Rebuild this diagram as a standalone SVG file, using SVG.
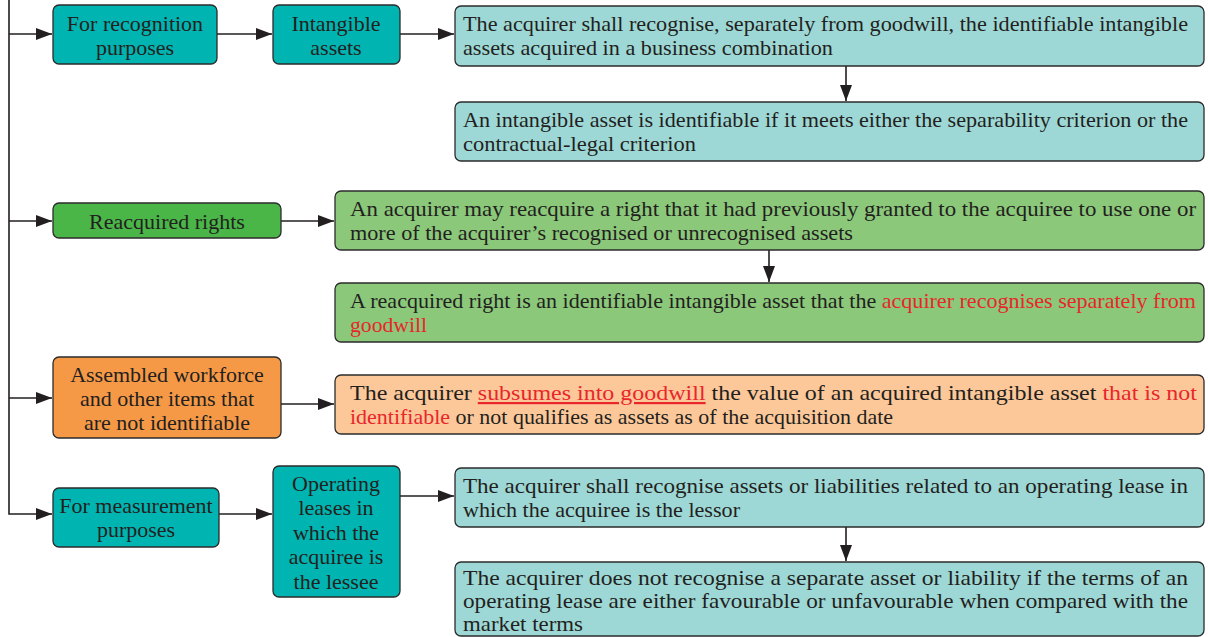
<svg xmlns="http://www.w3.org/2000/svg" width="1208" height="637" viewBox="0 0 1208 637">
<style>
.n{stroke:#2b2b2b;stroke-width:1.3}
.dt{fill:#00B4B1}.lt{fill:#9DD8D6}.dg{fill:#4AB648}.lg{fill:#8BC87A}.do{fill:#F69946}.lo{fill:#FCC899}
text{font-family:"Liberation Serif","DejaVu Serif",serif;font-size:22px;fill:#231f20}
.c{text-anchor:middle}
.r{fill:#E8262B}
.u{text-decoration:underline}
.e{stroke:#231f20;stroke-width:1.6;fill:none}
</style>
<defs>
<marker id="ah" markerUnits="userSpaceOnUse" markerWidth="17" markerHeight="13" refX="16" refY="6" orient="auto">
<path d="M0,0 L16,6 L0,12 z" fill="#231f20"/>
</marker>
</defs>
<rect width="1208" height="637" fill="#ffffff"/>
<g id="connectors">
<path class="e" d="M9,0 V514 H52" marker-end="url(#ah)"/>
<path class="e" d="M9,34 H52" marker-end="url(#ah)"/>
<path class="e" d="M9,221 H52" marker-end="url(#ah)"/>
<path class="e" d="M9,398 H52" marker-end="url(#ah)"/>
<path class="e" d="M217,34 H272" marker-end="url(#ah)"/>
<path class="e" d="M400,34 H454" marker-end="url(#ah)"/>
<path class="e" d="M846,66 V101" marker-end="url(#ah)"/>
<path class="e" d="M281,221 H334" marker-end="url(#ah)"/>
<path class="e" d="M769,250 V282" marker-end="url(#ah)"/>
<path class="e" d="M281,404 H334" marker-end="url(#ah)"/>
<path class="e" d="M219,514 H272" marker-end="url(#ah)"/>
<path class="e" d="M400,496 H454" marker-end="url(#ah)"/>
<path class="e" d="M846,527 V561" marker-end="url(#ah)"/>
</g>
<g id="recognition">
<rect class="n dt" x="53" y="5" width="164" height="59" rx="6"/>
<text class="c" x="135" y="31">For recognition</text>
<text class="c" x="135" y="55">purposes</text>
</g>
<g id="intangible">
<rect class="n dt" x="273" y="5" width="127" height="59" rx="6"/>
<text class="c" x="336" y="31">Intangible</text>
<text class="c" x="336" y="55">assets</text>
</g>
<g id="box1">
<rect class="n lt" x="455" y="6" width="749" height="60" rx="6"/>
<text x="463" y="31" textLength="725" lengthAdjust="spacingAndGlyphs">The acquirer shall recognise, separately from goodwill, the identifiable intangible</text>
<text x="463" y="55" textLength="370" lengthAdjust="spacingAndGlyphs">assets acquired in a business combination</text>
</g>
<g id="box2">
<rect class="n lt" x="455" y="102" width="749" height="59" rx="6"/>
<text x="463" y="127" textLength="725" lengthAdjust="spacingAndGlyphs">An intangible asset is identifiable if it meets either the separability criterion or the</text>
<text x="463" y="151" textLength="233" lengthAdjust="spacingAndGlyphs">contractual-legal criterion</text>
</g>
<g id="reacquired">
<rect class="n dg" x="53" y="203" width="228" height="35" rx="6"/>
<text class="c" x="167" y="229">Reacquired rights</text>
</g>
<g id="green1">
<rect class="n lg" x="335" y="191" width="869" height="59" rx="6"/>
<text x="350" y="216" textLength="846" lengthAdjust="spacingAndGlyphs">An acquirer may reacquire a right that it had previously granted to the acquiree to use one or</text>
<text x="350" y="240" textLength="503" lengthAdjust="spacingAndGlyphs">more of the acquirer’s recognised or unrecognised assets</text>
</g>
<g id="green2">
<rect class="n lg" x="335" y="283" width="869" height="59" rx="6"/>
<text x="350" y="308" textLength="846" lengthAdjust="spacingAndGlyphs">A reacquired right is an identifiable intangible asset that the <tspan class="r">acquirer recognises separately from</tspan></text>
<text class="r" x="350" y="332" textLength="77" lengthAdjust="spacingAndGlyphs">goodwill</text>
</g>
<g id="assembled">
<rect class="n do" x="53" y="357" width="228" height="81" rx="6"/>
<text class="c" x="167" y="382">Assembled workforce</text>
<text class="c" x="167" y="406">and other items that</text>
<text class="c" x="167" y="430">are not identifiable</text>
</g>
<g id="orange1">
<rect class="n lo" x="335" y="375" width="869" height="59" rx="6"/>
<text x="350" y="400" textLength="847" lengthAdjust="spacingAndGlyphs">The acquirer <tspan class="r u">subsumes into goodwill</tspan> the value of an acquired intangible asset <tspan class="r">that is not</tspan></text>
<text x="350" y="424" textLength="543" lengthAdjust="spacingAndGlyphs"><tspan class="r">identifiable</tspan> or not qualifies as assets as of the acquisition date</text>
</g>
<g id="measurement">
<rect class="n dt" x="53" y="488" width="166" height="59" rx="6"/>
<text class="c" x="136" y="513">For measurement</text>
<text class="c" x="136" y="537">purposes</text>
</g>
<g id="operating">
<rect class="n dt" x="273" y="466" width="127" height="131" rx="6"/>
<text class="c" x="336" y="491">Operating</text>
<text class="c" x="336" y="515">leases in</text>
<text class="c" x="336" y="540">which the</text>
<text class="c" x="336" y="564">acquiree is</text>
<text class="c" x="336" y="589">the lessee</text>
</g>
<g id="teal1">
<rect class="n lt" x="455" y="468" width="749" height="59" rx="6"/>
<text x="463" y="493" textLength="725" lengthAdjust="spacingAndGlyphs">The acquirer shall recognise assets or liabilities related to an operating lease in</text>
<text x="463" y="517" textLength="277" lengthAdjust="spacingAndGlyphs">which the acquiree is the lessor</text>
</g>
<g id="teal2">
<rect class="n lt" x="455" y="562" width="749" height="74" rx="6"/>
<text x="463" y="585" textLength="725" lengthAdjust="spacingAndGlyphs">The acquirer does not recognise a separate asset or liability if the terms of an</text>
<text x="463" y="608" textLength="725" lengthAdjust="spacingAndGlyphs">operating lease are either favourable or unfavourable when compared with the</text>
<text x="463" y="631" textLength="120" lengthAdjust="spacingAndGlyphs">market terms</text>
</g>
</svg>
